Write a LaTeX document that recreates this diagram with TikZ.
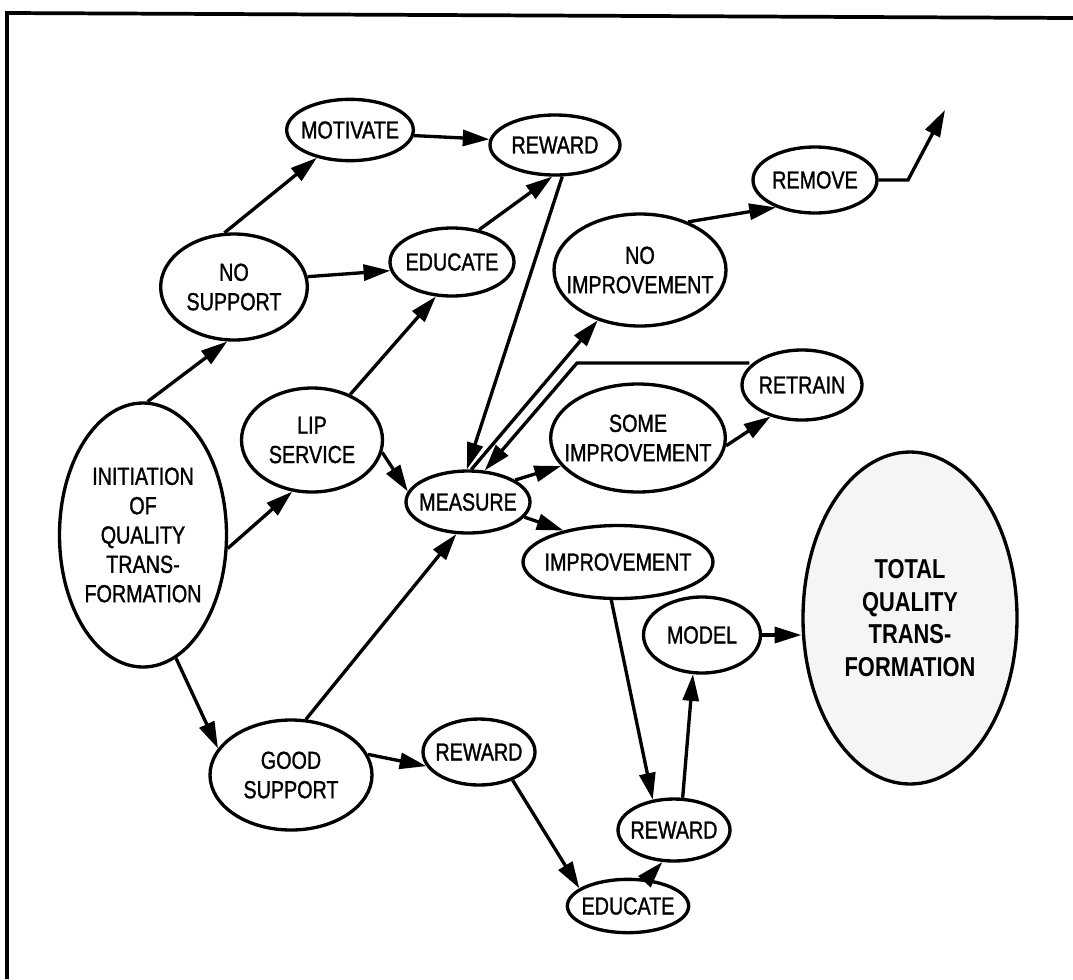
\documentclass[tikz,border=0pt]{standalone}
\usepackage{fontspec}
\setmainfont{Liberation Sans}[FakeStretch=0.80, UprightFeatures={FakeBold=1.2}]
\usetikzlibrary{arrows.meta,shapes.geometric}
\begin{document}
\begin{tikzpicture}[x=0.75pt,y=-0.75pt,
  box/.style={draw, ellipse, line width=2.5pt, inner xsep=-80pt, inner ysep=-80pt, align=center,
              font=\fontsize{18.5}{22}\selectfont},
  con/.style={line width=2.5pt, -{Triangle[length=20pt,width=12pt]}},
  frame/.style={line width=2.8pt}
]
\useasboundingbox (0,0) rectangle (1073,979);
\draw[frame] (7,979) -- (7,13) -- (1073,18);

\node[box, minimum width=95pt, minimum height=46pt] (mot) at (350,130) {MOTIVATE};
\node[box, minimum width=97.5pt, minimum height=45pt] (rew1) at (555,145) {REWARD};
\node[box, minimum width=110pt, minimum height=79.5pt] (nosup) at (234,287) {NO\\SUPPORT};
\node[box, minimum width=93pt, minimum height=51pt] (edu1) at (452,262) {EDUCATE};
\node[box, minimum width=129pt, minimum height=84pt] (noimp) at (640,270) {NO\\IMPROVEMENT};
\node[box, minimum width=93pt, minimum height=49.5pt] (remove) at (815,180) {REMOVE};
\node[box, minimum width=90pt, minimum height=52.5pt] (retrain) at (802,385) {RETRAIN};
\node[box, minimum width=131pt, minimum height=81pt] (someimp) at (638,438) {SOME\\IMPROVEMENT};
\node[box, minimum width=105.75pt, minimum height=78pt] (lip) at (312,440) {LIP\\SERVICE};
\node[box, minimum width=93pt, minimum height=46.5pt] (measure) at (468,502) {MEASURE};
\node[box, minimum width=125.25pt, minimum height=198pt] (init) at (143,535) {INITIATION\\OF\\QUALITY\\TRANS-\\FORMATION};
\node[box, minimum width=142.5pt, minimum height=54.75pt] (imp) at (618,562) {IMPROVEMENT};
\node[box, fill=gray!8, minimum width=160.5pt, minimum height=249pt,
      font=\bfseries\fontsize{20.5}{24.5}\selectfont] (total) at (910,618) {TOTAL\\QUALITY\\TRANS-\\FORMATION};
\node[box, minimum width=87.75pt, minimum height=57pt] (model) at (702,635) {MODEL};
\node[box, minimum width=121.5pt, minimum height=82.5pt] (goodsup) at (291,775) {GOOD\\SUPPORT};
\node[box, minimum width=84pt, minimum height=49.5pt] (rew2) at (479,752) {REWARD};
\node[box, minimum width=84pt, minimum height=46.5pt] (rew3) at (674,830) {REWARD};
\node[box, minimum width=91pt, minimum height=40pt] (edu2) at (628,906) {EDUCATE};

\coordinate (kink) at (577,363);
\coordinate (bend) at (908,180);
\coordinate (out) at (945,110);

\draw[con] (init.88) -- (nosup.263);
\draw[con] (init.-9) -- (lip.249);
\draw[con] (init.-75) -- (goodsup.160);
\draw[con] (nosup.100) -- (mot.220);
\draw[con] (nosup.8) -- (edu1.188);
\draw[con] (mot.-5) -- (rew1.175);
\draw[con] (edu1.50) -- (rew1.265);
\draw[con] (rew1.-77) -- (measure.92);
\draw[con] (lip.50) -- (edu1.245);
\draw[con] (lip.-10) -- (measure.170);
\draw[con] (goodsup.75) -- (measure.250);
\draw[con] (measure.84) -- (noimp.230);
\draw[con] (kink -| retrain.160) -- (kink) -- (measure.62);
\draw[con] (measure.25) -- (someimp.200);
\draw[con] (measure.-15) -- (imp.150);
\draw[con] (noimp.45) -- (remove.215);
\draw[con] (someimp.-5) -- (retrain.225);
\draw[con] (imp.260) -- (rew3.125);
\draw[con] (rew3.75) -- (model.257);
\draw[con] (model.east) -- (model.east -| total.west);
\draw[con] (goodsup.15) -- (rew2.195);
\draw[con] (rew2.-40) -- (edu2.160);
\draw[con] (edu2.55) -- (rew3.250);
\draw[con] (remove.east) -- (remove.east -| bend) -- (out);
\end{tikzpicture}
\end{document}
